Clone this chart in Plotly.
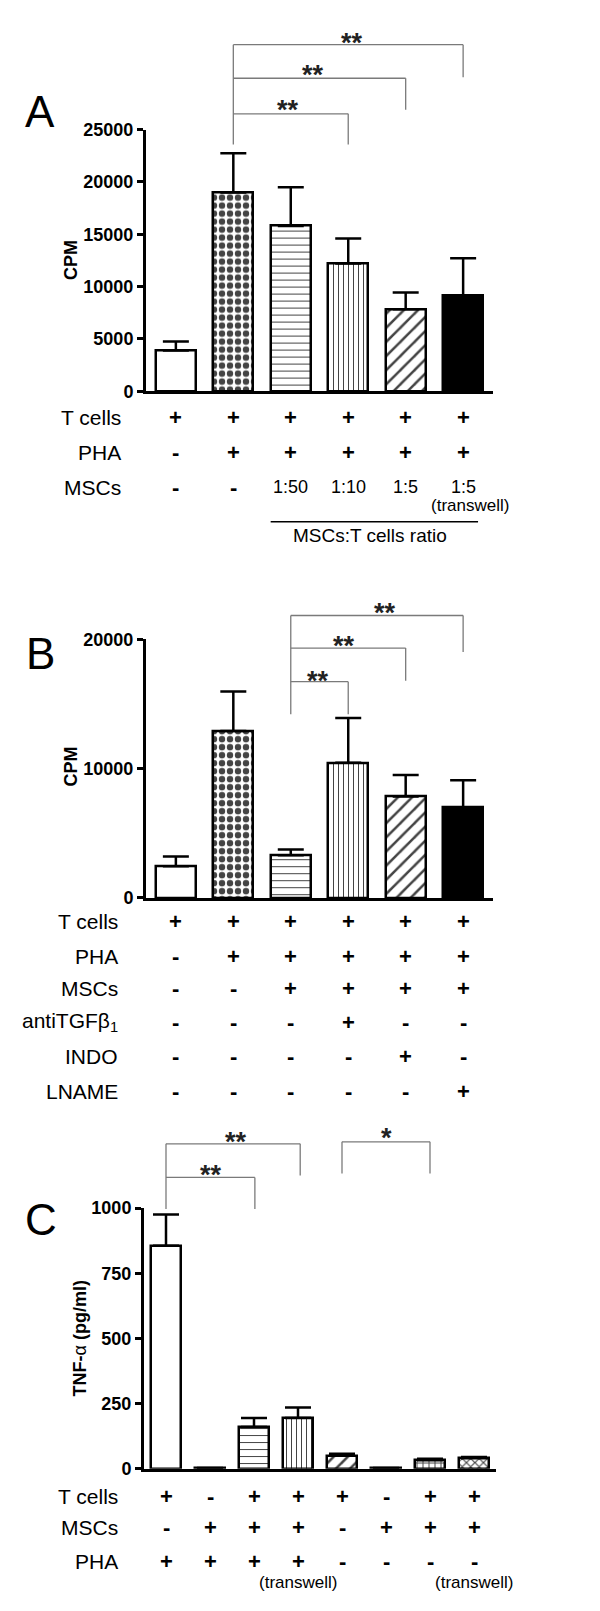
import plotly.graph_objects as go

W, H = 600, 1611
FONT = "Arial, Liberation Sans, sans-serif"

# ---- data -------------------------------------------------------------
a_cpm = [3900, 19000, 15800, 12200, 7850, 9150]
a_err = [850, 3750, 3700, 2400, 1600, 3550]
b_cpm = [2450, 12900, 3300, 10450, 7850, 7000]
b_err = [750, 3050, 450, 3450, 1650, 2100]
c_tnf = [855, 3, 160, 195, 50, 3, 33, 40]
c_err = [120, 0, 35, 40, 8, 0, 5, 5]

a_rows = ["T cells", "PHA", "MSCs"]
a_table = [
    ["+", "+", "+", "+", "+", "+"],
    ["-", "+", "+", "+", "+", "+"],
    ["-", "-", "1:50", "1:10", "1:5", "1:5"],
]
b_rows = ["T cells", "PHA", "MSCs", "antiTGFβ<sub>1</sub>", "INDO", "LNAME"]
b_table = [
    ["+", "+", "+", "+", "+", "+"],
    ["-", "+", "+", "+", "+", "+"],
    ["-", "-", "+", "+", "+", "+"],
    ["-", "-", "-", "+", "-", "-"],
    ["-", "-", "-", "-", "+", "-"],
    ["-", "-", "-", "-", "-", "+"],
]
c_rows = ["T cells", "MSCs", "PHA"]
c_table = [
    ["+", "-", "+", "+", "+", "-", "+", "+"],
    ["-", "+", "+", "+", "-", "+", "+", "+"],
    ["+", "+", "+", "+", "-", "-", "-", "-"],
]

# fill styles per bar
ab_shape = ["", ".", "-", "|", "/", ""]
ab_color = ["white", "white", "white", "white", "white", "black"]
ab_size = [8, 8, 7, 5, 10, 8]
ab_solid = [0.3, 0.5, 0.15, 0.2, 0.25, 0.3]
c_shape = ["", "", "-", "|", "/", "", "+", "x"]
c_size = [8, 8, 7, 5, 10, 8, 6, 6]
c_solid = [0.3, 0.3, 0.15, 0.2, 0.25, 0.3, 0.3, 0.35]


def px(x):
    return x / W


def py(y):
    return 1 - y / H


fig = go.Figure()


def add_bars(vals, errs, shapes, colors, sizes, solids, xa, ya, width):
    fig.add_trace(go.Bar(
        x=list(range(len(vals))), y=vals, width=width,
        xaxis=xa, yaxis=ya, showlegend=False,
        marker=dict(
            color=colors,
            line=dict(color="black", width=2.5),
            pattern=dict(shape=shapes, fgcolor="black", fgopacity=1, size=sizes,
                         solidity=solids, fillmode="overlay"),
        ),
        error_y=dict(type="data", symmetric=False, array=errs,
                     arrayminus=[0] * len(errs), color="black",
                     thickness=2.5, width=13),
    ))


add_bars(a_cpm, a_err, ab_shape, ab_color, ab_size, ab_solid, "x", "y", 0.7)
add_bars(b_cpm, b_err, ab_shape, ab_color, ab_size, ab_solid, "x2", "y2", 0.7)
add_bars(c_tnf, c_err, c_shape, ["white"] * 8, c_size, c_solid, "x3", "y3", 0.68)

xcommon = dict(showline=True, linewidth=3, linecolor="black", showticklabels=False,
               ticks="", showgrid=False, zeroline=False)
ycommon = dict(showline=True, linewidth=3, linecolor="black", ticks="outside",
               ticklen=6, tickwidth=2.5, tickcolor="black", showgrid=False,
               zeroline=False, tickformat="d",
               tickfont=dict(family=FONT, size=18, color="black", weight="bold"))

fig.update_layout(
    width=W, height=H, margin=dict(l=0, r=0, t=0, b=0),
    plot_bgcolor="white", paper_bgcolor="white", bargap=0,
    xaxis=dict(domain=[px(138), px(485)], range=[-0.52, 5.52], anchor="y", **xcommon),
    yaxis=dict(domain=[py(378), py(113)], range=[0, 25000], anchor="x",
               tickvals=[0, 5000, 10000, 15000, 20000, 25000], **ycommon),
    xaxis2=dict(domain=[px(138), px(485)], range=[-0.52, 5.52], anchor="y2", **xcommon),
    yaxis2=dict(domain=[py(891), py(629)], range=[0, 20000], anchor="x2",
                tickvals=[0, 10000, 20000], **ycommon),
    xaxis3=dict(domain=[px(136), px(488)], range=[-0.5, 7.5], anchor="y3", **xcommon),
    yaxis3=dict(domain=[py(1469), py(1205)], range=[0, 1000], anchor="x3",
                tickvals=[0, 250, 500, 750, 1000], **ycommon),
)

ann = []
shapes = []


def text(x, y, t, size=20, xref="paper", xanchor="center", bold=False, angle=0):
    ann.append(dict(x=x, y=y, xref=xref, yref="paper", text=t, showarrow=False,
                    xanchor=xanchor, yanchor="middle", textangle=angle,
                    font=dict(family=FONT, size=size, color="black",
                              weight="bold" if bold else "normal")))


def table(rows, cells, ys, xref, label_x):
    for name, row, y in zip(rows, cells, ys):
        text(px(label_x), py(y), name, size=21, xanchor="right")
        for i, s in enumerate(row):
            if s in "+-":
                text(i, py(y), s, size=22, xref=xref, bold=True)
            else:
                text(i, py(y), s, size=18, xref=xref)


def bracket(xref, x0, x1, y_h, y0, y1, star, sx, sy):
    # y0: left leg bottom, y1: right leg bottom (pixels)
    gray = dict(color="#7a7a7a", width=1.3)
    shapes.append(dict(type="line", xref=xref, yref="paper", x0=x0, x1=x1,
                       y0=py(y_h), y1=py(y_h), line=gray))
    if y0 is not None:
        shapes.append(dict(type="line", xref=xref, yref="paper", x0=x0, x1=x0,
                           y0=py(y_h), y1=py(y0), line=gray))
    shapes.append(dict(type="line", xref=xref, yref="paper", x0=x1, x1=x1,
                       y0=py(y_h), y1=py(y1), line=gray))
    ann.append(dict(x=sx, y=py(sy), xref=xref, yref="paper", text=star,
                    showarrow=False, yanchor="middle",
                    font=dict(family=FONT, size=27, color="#222", weight="bold")))


# ---- panel A ----
text(px(32), py(95), "A", size=44)
text(px(63), py(245), "CPM", size=18, bold=True, angle=-90)
table(a_rows, a_table, [405, 440, 475], "x", 115)
text(5.12, py(494), "(transwell)", size=17, xref="x")
shapes.append(dict(type="line", xref="x", yref="paper", x0=1.65, x1=5.26,
                   y0=py(510), y1=py(510), line=dict(color="black", width=1.5)))
text(3.38, py(524), "MSCs:T cells ratio", size=19, xref="x")
bracket("x", 1, 5, 27, 128, 60, "**", 3.07, 25)
bracket("x", 1, 4, 61, None, 93, "**", 2.39, 58)
bracket("x", 1, 3, 97, None, 128, "**", 1.95, 93)

# ---- panel B ----
text(px(32), py(643), "B", size=44)
text(px(63), py(758), "CPM", size=18, bold=True, angle=-90)
table(b_rows, b_table, [915, 950, 983, 1017, 1052, 1087], "x2", 112)
bracket("x2", 2, 5, 605, 705, 642, "**", 3.64, 602)
bracket("x2", 2, 4, 638, None, 671, "**", 2.93, 636)
bracket("x2", 2, 3, 672, None, 705, "**", 2.47, 671)

# ---- panel C ----
text(px(33), py(1217), "C", size=44)
text(px(72), py(1337), "<b>TNF-</b>α<b> (pg/ml)</b>", size=18, angle=-90)
table(c_rows, c_table, [1497, 1528, 1563], "x3", 112)
text(3, py(1584), "(transwell)", size=17, xref="x3")
text(7, py(1584), "(transwell)", size=17, xref="x3")
bracket("x3", 0, 3.05, 1140, 1206, 1172, "**", 1.59, 1138)
bracket("x3", 0, 2.02, 1174, None, 1206, "**", 1.02, 1172)
bracket("x3", 4, 6, 1138, 1170, 1170, "*", 5.0, 1134)

fig.update_layout(annotations=ann, shapes=shapes)
fig.write_html("out.html")
